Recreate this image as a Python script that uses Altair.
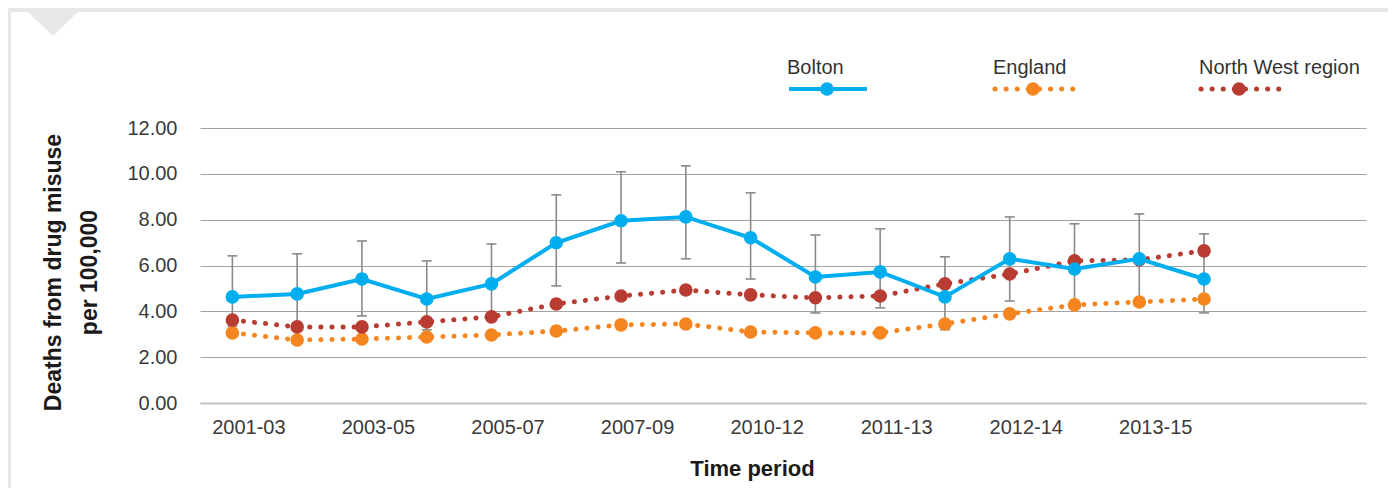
import json
import altair as alt
import pandas as pd

# ---------------- data ----------------
n_slots = 18  # category slots on the x axis (16 used, 2 empty at right)
tick_labels = ["2001-03", "2003-05", "2005-07", "2007-09", "2010-12", "2011-13", "2012-14", "2013-15"]
tick_slots = [0, 2, 4, 6, 8, 10, 12, 14]

bolton = [4.63, 4.76, 5.41, 4.54, 5.20, 6.99, 7.95, 8.12, 7.21, 5.50, 5.72, 4.63, 6.29, 5.85, 6.29, 5.41]
bolton_upper = [6.42, 6.51, 7.07, 6.20, 6.94, 9.08, 10.09, 10.35, 9.17, 7.33, 7.60, 6.38, 8.12, 7.82, 8.25, 7.38]
bolton_lower = [3.36, 3.31, 3.80, 3.19, 3.76, 5.11, 6.11, 6.29, 5.41, 3.93, 4.15, 3.20, 4.45, 4.15, 4.55, 3.93]
england = [3.06, 2.75, 2.79, 2.88, 2.97, 3.14, 3.41, 3.45, 3.10, 3.06, 3.06, 3.45, 3.89, 4.28, 4.41, 4.54]
north_west = [3.62, 3.32, 3.32, 3.54, 3.76, 4.32, 4.67, 4.93, 4.72, 4.59, 4.67, 5.20, 5.63, 6.20, 6.25, 6.64]

series_names = ["Bolton", "England", "North West region"]
series_colors = ["#00AEEF", "#F5861F", "#B83C32"]
y_ticks = [0, 2, 4, 6, 8, 10, 12]

# ---------------- tables ----------------
rows = []
for i in range(len(bolton)):
    rows.append({"slot": i + 0.5, "series": "Bolton", "value": bolton[i],
                 "lo": bolton_lower[i], "hi": bolton_upper[i]})
    rows.append({"slot": i + 0.5, "series": "England", "value": england[i],
                 "lo": None, "hi": None})
    rows.append({"slot": i + 0.5, "series": "North West region", "value": north_west[i],
                 "lo": None, "hi": None})
df = pd.DataFrame(rows)

FONT = "Liberation Sans"
tick_vals = [s + 0.5 for s in tick_slots]
label_expr = "%s[indexof(%s, datum.value)]" % (json.dumps(tick_labels), json.dumps(tick_vals))

x_scale = alt.Scale(domain=[0, n_slots], nice=False, zero=False)
y_scale = alt.Scale(domain=[0, 12], nice=False)

x_axis = alt.Axis(values=tick_vals, labelExpr=label_expr, title="Time period",
                  grid=False, ticks=False, tickSize=0, domain=True,
                  domainColor="#c2c2c2", domainWidth=2,
                  labelFont=FONT, labelFontSize=20, labelColor="#3a3a3a",
                  labelPadding=14, labelOffset=16,
                  titleFont=FONT, titleFontSize=22, titleFontWeight="bold",
                  titleColor="#1a1a1a", titleX=552, titleY=65,
                  titleBaseline="middle", titleAlign="center")

y_axis = alt.Axis(values=y_ticks, format=".2f",
                  title=["Deaths from drug misuse", "per 100,000"],
                  grid=True, gridColor="#a3a3a3", gridWidth=1,
                  ticks=False, tickSize=0, domain=False,
                  labelFont=FONT, labelFontSize=20, labelColor="#3a3a3a",
                  labelPadding=23,
                  titleFont=FONT, titleFontSize=23, titleFontWeight="bold",
                  titleColor="#1a1a1a", titleAngle=270, titleX=-147, titleY=144,
                  titleAlign="center", titleBaseline="middle", titleLineHeight=36)

X = alt.X("slot:Q", scale=x_scale, axis=x_axis)

base = alt.Chart(df)
bol = base.transform_filter(alt.datum.series == "Bolton")

err = bol.mark_rule(color="#8a8a8a", strokeWidth=1.6).encode(
    x=X, y=alt.Y("lo:Q", scale=y_scale, axis=y_axis), y2="hi:Q")
cap_hi = bol.mark_rule(color="#8a8a8a", strokeWidth=1.6, xOffset=-5, x2Offset=5).encode(
    x=X, x2="slot:Q", y=alt.Y("hi:Q", scale=y_scale, axis=y_axis))
cap_lo = bol.mark_rule(color="#8a8a8a", strokeWidth=1.6, xOffset=-5, x2Offset=5).encode(
    x=X, x2="slot:Q", y=alt.Y("lo:Q", scale=y_scale, axis=y_axis))

layers = [err, cap_hi, cap_lo]
order = ["England", "North West region", "Bolton"]
for name in order:
    col = series_colors[series_names.index(name)]
    sub = base.transform_filter(alt.datum.series == name)
    Y = alt.Y("value:Q", scale=y_scale, axis=y_axis)
    if name == "Bolton":
        line = sub.mark_line(color=col, strokeWidth=4)
    else:
        line = sub.mark_line(color=col, strokeWidth=5, strokeDash=[0.1, 11], strokeCap="round")
    pts = sub.mark_circle(color=col, size=185, opacity=1)
    layers += [line.encode(x=X, y=Y), pts.encode(x=X, y=Y)]

# ---------------- legend (drawn above the plot) ----------------
legend_left = [587, 793, 999]   # px from plot left
legend_text_y = -60
legend_sym_y = -39
for i, name in enumerate(series_names):
    col = series_colors[i]
    ldf = pd.DataFrame({"series": [name]})
    lc = alt.Chart(ldf)
    x0 = legend_left[i]
    layers.append(lc.mark_text(align="left", baseline="middle", font=FONT, fontSize=20,
                               color="#333333").encode(
        text="series:N", x=alt.value(x0), y=alt.value(legend_text_y)))
    if name == "Bolton":
        sym = lc.mark_rule(color=col, strokeWidth=4)
    else:
        sym = lc.mark_rule(color=col, strokeWidth=5, strokeDash=[0.1, 11], strokeCap="round")
    layers.append(sym.encode(x=alt.value(x0 + 2), x2=alt.value(x0 + 80), y=alt.value(legend_sym_y)))
    layers.append(lc.mark_circle(color=col, size=185, opacity=1).encode(
        x=alt.value(x0 + 40), y=alt.value(legend_sym_y)))

# ---------------- page frame decoration ----------------
fdf = pd.DataFrame({"k": [0]})
fc = alt.Chart(fdf)
frame = "#E6E7E8"
layers.append(fc.mark_rect(color=frame).encode(
    x=alt.value(-192), x2=alt.value(1190), y=alt.value(-120), y2=alt.value(-116)))
layers.append(fc.mark_rect(color=frame).encode(
    x=alt.value(-192), x2=alt.value(-189), y=alt.value(-120), y2=alt.value(370)))
layers.append(fc.mark_point(shape="M-1,-0.48L1,-0.48L0,0.48Z", filled=True, color=frame,
                            opacity=1, size=2500, strokeWidth=0).encode(
    x=alt.value(-147), y=alt.value(-104)))

chart = alt.layer(*layers).properties(
    width=1166, height=275,
    autosize=alt.AutoSizeParams(type="none"),
    padding={"left": 192, "top": 120, "right": 22, "bottom": 85},
    background="white",
).configure_view(stroke=None)

chart.save("out.html", embed_options={"renderer": "svg", "actions": False})
